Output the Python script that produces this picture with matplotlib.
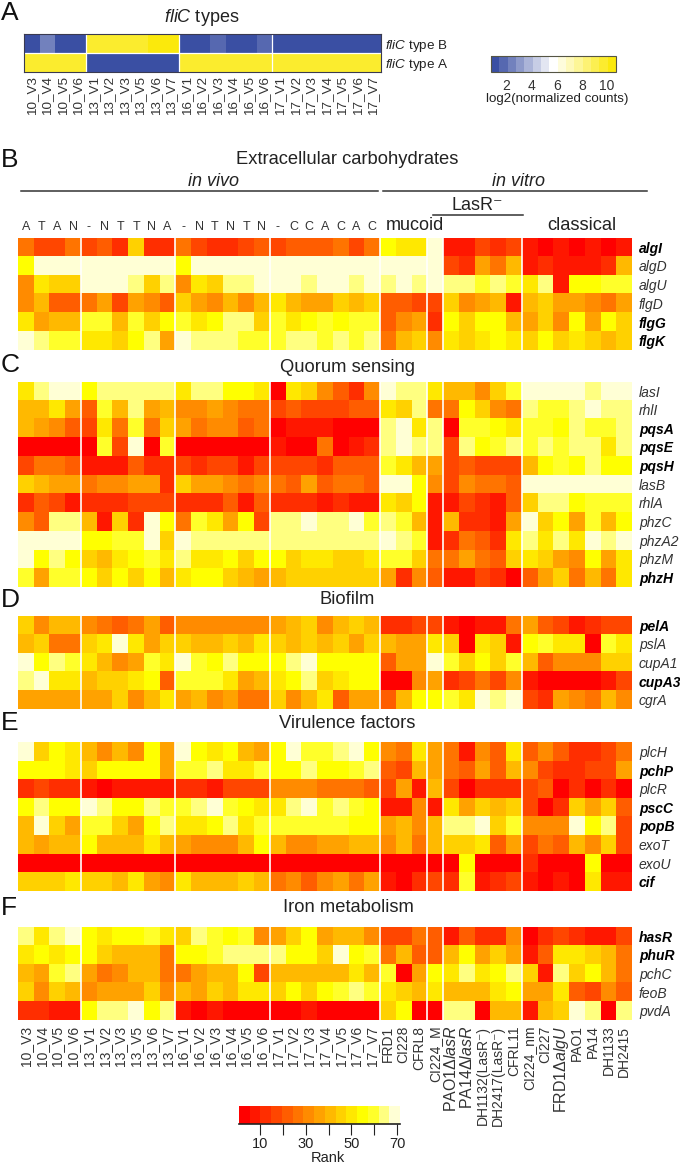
#import packages
import numpy as np
import matplotlib
matplotlib.use("Agg")
import matplotlib.pyplot as plt
from matplotlib.colors import ListedColormap, LinearSegmentedColormap, Normalize
from matplotlib.cm import ScalarMappable

plt.rcParams['font.family'] = ['Liberation Sans', 'DejaVu Sans']
plt.rcParams['mathtext.fontset'] = 'custom'
plt.rcParams['mathtext.rm'] = 'Liberation Sans'
plt.rcParams['mathtext.it'] = 'Liberation Sans:italic'
plt.rcParams['mathtext.bf'] = 'Liberation Sans:bold'

#sample labels
vivo_samples = ["10_V3", "10_V4", "10_V5", "10_V6",
                "13_V1", "13_V2", "13_V3", "13_V5", "13_V6", "13_V7",
                "16_V1", "16_V2", "16_V3", "16_V4", "16_V5", "16_V6",
                "17_V1", "17_V2", "17_V3", "17_V4", "17_V5", "17_V6", "17_V7"]
vitro_samples = ["FRD1", "CI228", "CFRL8", "CI224_M",
                 r"PAO1Δ$\it{lasR}$", r"PA14Δ$\it{lasR}$", "DH1132(LasR\u207b)",
                 "DH2417(LasR\u207b)", "CFRL11",
                 "CI224_nm", "CI227", r"FRD1Δ$\it{algU}$", "PAO1", "PA14", "DH1133", "DH2415"]
fliC_letters = ["A", "T", "A", "N", "-", "N", "T", "T", "N", "A", "-", "N", "T", "N", "T", "N",
                "-", "C", "C", "A", "C", "A", "C"]

#panel A, log2(normalized counts)
fliC_genes = ["type B", "type A"]
fliC_b = [1.4, 2.2, 1.3, 1.3, 10, 10, 10, 10, 10.4, 10.3,
          1.3, 1.4, 1.9, 1.2, 1.2, 1.5, 1.2, 1.2, 1.2, 1.2, 1.4, 1.4, 1.2]
fliC_a = [10, 10, 10, 10, 1.3, 1.4, 1.4, 1.4, 1.2, 1.2,
          10, 10, 10, 10, 10, 9.4, 10, 10, 10, 10, 10, 10, 10]

#panel B, ranks
genes_b = ["algI", "algD", "algU", "flgD", "flgG", "flgK"]
bold_b = ["algI", "flgG", "flgK"]
algI = [27,17,17,27, 17,22,13,45,13,13, 27,17,13,13,17,22, 17,22,22,22,27,17,27, 55,50,50, 69, 8,8,17,13,17, 8,3,8,3,8,3,8]
algD = [55,69,69,69, 69,69,69,69,69,69, 55,69,69,69,69,69, 69,69,69,69,69,69,69, 69,69,69, 69, 17,13,36,27,41, 8,13,8,8,8,13,41]
algU = [31,50,45,45, 69,69,69,64,45,64, 31,50,45,64,64,69, 69,69,64,69,69,64,69, 64,69,64, 69, 64,64,59,64,59, 50,64,8,55,55,59,59]
flgD = [31,41,22,22, 27,36,17,36,31,22, 45,36,31,41,31,41, 50,41,36,36,45,41,45, 22,22,17, 17, 45,31,36,41,8, 41,45,36,36,31,27,36]
flgG = [50,36,41,41, 59,59,41,59,45,55, 59,50,55,64,64,45, 59,50,55,59,55,59,59, 22,31,36, 13, 55,45,55,55,41, 36,45,31,55,36,55,45]
flgK = [69,64,59,59, 50,50,45,55,64,36, 69,64,64,64,59,59, 59,64,64,59,64,59,64, 27,41,45, 31, 50,45,50,55,50, 45,55,45,50,45,41,45]

#panel C, ranks
genes_c = ["lasI", "rhlI", "pqsA", "pqsE", "pqsH", "lasB", "rhlA", "phzC", "phzA2", "phzM", "phzH"]
bold_c = ["pqsA", "pqsE", "pqsH", "phzH"]
lasI = [50,64,69,69, 55,64,64,64,64,64, 50,64,64,55,55,50, 3,50,45,31,22,13,31, 69,64,64, 50, 41,41,31,45,59, 69,69,69,69,64,69,69]
rhlI = [41,41,50,36, 22,59,41,64,36,41, 31,31,36,31,27,27, 17,22,17,17,17,22,22, 50,45,64, 27, 27,55,45,31,27, 64,59,59,64,69,64,64]
pqsA = [41,36,31,22, 17,50,27,59,27,45, 36,27,31,31,22,27, 3,8,8,8,3,3,3, 64,69,50, 64, 3,59,59,55,50, 59,59,55,64,59,59,64]
pqsE = [3,3,3,3, 3,59,17,69,3,59, 3,3,3,3,3,3, 8,3,3,27,3,8,13, 64,69,64, 64, 17,64,55,59,64, 59,64,59,64,64,50,64]
pqsH = [17,27,27,22, 8,8,8,22,13,13, 17,13,17,17,8,17, 17,17,17,13,22,22,22, 59,50,41, 36, 17,22,17,17,17, 41,55,59,55,64,55,55]
lasB = [45,41,36,36, 27,31,31,36,36,13, 45,36,36,31,27,31, 27,22,36,22,27,27,22, 69,69,55, 31, 17,31,27,27,22, 69,69,69,69,69,69,69]
rhlA = [13,22,17,8, 13,13,13,17,17,17, 13,13,13,22,8,22, 13,13,13,8,13,8,8, 50,45,55, 8, 8,17,13,8,22, 45,64,64,55,59,59,59]
phzC = [31,22,64,64, 41,8,45,13,69,55, 27,59,50,36,55,17, 64,64,69,64,64,69,59, 64,59,41, 8, 41,13,13,8,36, 69,45,55,36,59,41,55]
phzA2 = [69,69,69,69, 55,55,59,59,69,45, 69,64,64,64,64,64, 64,64,64,64,64,64,64, 69,64,59, 8, 13,27,22,13,50, 64,50,64,50,69,64,69]
phzM = [69,55,64,55, 45,41,50,55,59,50, 64,50,50,55,45,55, 55,45,50,50,45,45,50, 59,59,45, 27, 27,36,27,22,45, 50,45,36,31,55,36,50]
phzH = [59,36,59,59, 55,45,55,45,55,41, 50,55,55,45,41,36, 41,45,45,45,45,45,45, 36,13,31, 22, 8,8,17,13,3, 22,36,45,27,41,27,50]

#panel D, ranks
genes_d = ["pelA", "pslA", "cupA1", "cupA3", "cgrA"]
bold_d = ["pelA", "cupA3"]
pelA = [45,31,41,41, 31,27,22,27,36,22, 31,31,31,31,31,31, 36,41,45,31,41,45,41, 13,13,17, 17, 8,3,8,8,27, 36,22,17,8,13,17,17]
pslA = [41,45,27,27, 45,50,69,50,36,45, 45,41,41,45,41,50, 45,41,45,41,45,36,45, 41,36,36, 50, 45,3,50,45,8, 55,59,50,50,3,59,50]
cupA1 = [69,55,64,59, 50,41,31,36,59,50, 69,59,55,64,55,55, 55,64,69,55,55,55,55, 22,36,36, 69, 59,45,55,45,59, 41,22,31,31,31,45,45]
cupA3 = [64,69,50,50, 41,45,45,50,55,22, 59,59,59,50,36,41, 50,55,64,45,50,55,55, 3,3,31, 36, 13,17,27,17,31, 8,3,3,3,3,8,17]
cgrA = [36,36,36,36, 36,36,45,31,41,50, 36,41,31,36,27,27, 45,31,41,50,22,36,36, 22,41,55, 55, 59,50,69,64,69, 17,13,36,31,27,41,31]

#panel E, ranks
genes_e = ["plcH", "pchP", "plcR", "pscC", "popB", "exoT", "exoU", "cif"]
bold_e = ["pchP", "pscC", "popB", "cif"]
plcH = [69,45,55,50, 41,31,41,31,55,36, 69,55,50,55,41,36, 55,69,59,59,64,69,55, 31,27,50, 36, 27,8,31,22,50, 22,31,22,13,13,17,27]
pchP = [55,55,55,50, 45,55,55,55,55,36, 59,59,64,50,50,59, 55,55,64,55,55,59,64, 22,17,41, 36, 27,22,36,22,41, 31,17,13,13,17,17,36]
plcR = [13,17,13,13, 8,3,8,8,8,8, 13,13,8,17,17,17, 31,31,31,27,27,27,22, 17,36,8, 41, 17,3,13,13,13, 17,22,3,13,3,13,3]
pscC = [55,64,55,55, 69,64,55,55,64,59, 59,64,69,59,55,50, 50,64,69,59,64,59,55, 8,8,31, 8, 50,36,45,41,45, 17,3,13,45,36,45,22]
popB = [41,69,45,36, 59,59,45,36,55,64, 50,50,55,64,50,59, 59,59,59,59,59,55,55, 36,41,31, 41, 64,64,69,45,59, 31,31,31,69,55,64,17]
exoT = [41,36,41,41, 55,41,41,41,50,41, 36,31,31,31,41,55, 41,31,31,36,36,41,41, 31,41,27, 41, 45,45,50,22,36, 17,27,22,41,31,45,17]
exoU = [3,3,3,3, 3,3,3,3,3,3, 3,3,3,3,3,3, 3,3,3,3,3,3,3, 3,3,3, 3, 3,55,3,3,3, 13,3,3,3,55,3,3]
cif = [45,45,45,50, 45,45,41,50,36,31, 50,41,41,41,45,41, 27,31,22,31,36,27,36, 8,3,13, 17, 13,59,8,13,17, 8,3,8,3,50,8,8]

#panel F, ranks
genes_f = ["hasR", "phuR", "pchC", "feoB", "pvdA"]
bold_f = ["hasR", "phuR"]
hasR = [64,50,64,69, 55,50,55,55,59,50, 45,64,59,55,59,31, 36,45,55,36,41,41,31, 17,17,27, 22, 8,22,13,13,31, 3,13,17,13,8,8,17]
phuR = [50,55,50,55, 55,45,41,41,41,27, 55,55,59,64,64,64, 64,55,55,45,69,55,59, 27,41,22, 22, 41,55,36,45,36, 8,22,50,50,45,41,27]
pchC = [41,36,59,64, 36,27,31,41,41,27, 27,36,41,41,55,17, 41,41,41,41,41,50,41, 59,3,36, 55, 50,64,50,55,64, 45,8,64,45,55,41,27]
feoB = [45,31,45,41, 31,36,36,36,45,31, 41,36,45,41,50,50, 45,55,45,55,59,64,59, 50,45,41, 50, 41,41,41,50,55, 36,36,50,22,17,31,22]
pvdA = [13,13,8,8, 55,64,64,69,55,64, 8,3,8,3,3,3, 3,3,8,3,3,3,3, 45,55,3, 3, 64,64,3,41,41, 8,41,45,69,64,3,64]

#colormaps
rank_cmap = ListedColormap(["#ff0000", "#ff1700", "#ff2e00", "#ff4600", "#ff5d00", "#ff7400", "#ff8b00",
                            "#ffa200", "#ffb900", "#ffd100", "#ffe800", "#ffff00", "#ffff2a", "#ffff80", "#ffffd5"])
rank_norm = Normalize(1, 71)
count_cmap = LinearSegmentedColormap.from_list("counts", ["#3a4fa3", "#ffffff", "#fbe90c"], N=15)
count_norm = Normalize(0.8, 10.7)

W, H = 680, 1165
TEXT = "#222222"
fig = plt.figure(figsize=(W / 100, H / 100), dpi=100)


#axes from pixel box, y measured from the top
def box(x0, y0, x1, y1):
    return fig.add_axes([x0 / W, 1 - y1 / H, (x1 - x0) / W, (y1 - y0) / H])


def label(x, y, s, **kw):
    kw.setdefault("color", TEXT)
    kw.setdefault("ha", "center")
    kw.setdefault("va", "center")
    fig.text(x / W, 1 - y / H, s, **kw)


def heat(y0, y1, rows, genes, bold, bottom=False):
    ax = box(18, y0, 632, y1)
    ax.imshow(np.array(rows), cmap=rank_cmap, norm=rank_norm, aspect="auto", interpolation="nearest")
    for k in [4, 10, 16, 23, 26, 27, 32]:
        ax.axvline(k - 0.5, color="white", lw=1.2)
    ax.yaxis.tick_right()
    ax.set_yticks(range(len(genes)))
    ax.set_yticklabels(genes, fontsize=10, color="#333333", style="italic")
    for t, g in zip(ax.get_yticklabels(), genes):
        if g in bold:
            t.set_fontweight("bold")
            t.set_color("black")
    ax.tick_params(axis="y", length=0, pad=5)
    if bottom:
        ax.set_xticks(range(39))
        ax.set_xticklabels(vivo_samples + vitro_samples, rotation=90, fontsize=10, color="#333333")
        ax.tick_params(axis="x", length=0, pad=4)
    else:
        ax.set_xticks([])
    for s in ax.spines.values():
        s.set_visible(False)
    return ax


#panel A
ax = box(24, 34, 381, 72)
ax.imshow(np.array([fliC_b, fliC_a]), cmap=count_cmap, norm=count_norm, aspect="auto", interpolation="nearest")
for k in [4, 10, 16]:
    ax.axvline(k - 0.5, color="white", lw=0.9)
ax.axhline(0.5, color="white", lw=0.9)
ax.set_xticks(range(23))
ax.set_xticklabels(vivo_samples, rotation=90, fontsize=9.7, color="#333333")
ax.yaxis.tick_right()
ax.set_yticks([0, 1])
ax.set_yticklabels([r"$\it{fliC}$ " + g for g in fliC_genes], fontsize=9.7, color="#222222")
ax.tick_params(length=0, pad=3)
for s in ax.spines.values():
    s.set_color("#3a3a50")
    s.set_linewidth(0.8)

#panel A colorbar
cax = box(491, 56, 616, 72)
cb = fig.colorbar(ScalarMappable(norm=count_norm, cmap=count_cmap), cax=cax, orientation="horizontal")
cb.set_ticks([2, 4, 6, 8, 10])
cb.ax.tick_params(length=0, labelsize=10, pad=5, labelcolor="#333333")
cb.outline.set_edgecolor("#555544")
cb.outline.set_linewidth(0.8)
label(557, 99, "log2(normalized counts)", fontsize=9.6)

#panels B to F
heat(238, 350, [algI, algD, algU, flgD, flgG, flgK], genes_b, bold_b)
heat(381.7, 586.7, [lasI, rhlI, pqsA, pqsE, pqsH, lasB, rhlA, phzC, phzA2, phzM, phzH], genes_c, bold_c)
heat(615.7, 709, [pelA, pslA, cupA1, cupA3, cgrA], genes_d, bold_d)
heat(742.3, 891, [plcH, pchP, plcR, pscC, popB, exoT, exoU, cif], genes_e, bold_e)
ax = heat(926.7, 1020, [hasR, phuR, pchC, feoB, pvdA], genes_f, bold_f, bottom=True)
#mathtext labels come out short, size them up
for t in ax.get_xticklabels():
    if "$" in t.get_text():
        t.set_fontsize(11.5)

#rank colorbar
cax = box(239, 1105.7, 400, 1124)
cb = fig.colorbar(ScalarMappable(norm=Normalize(0.8, 71.3), cmap=rank_cmap), cax=cax, orientation="horizontal")
cb.set_ticks([10, 20, 30, 40, 50, 60, 70])
cb.set_ticklabels(["10", "", "30", "", "50", "", "70"])
cb.ax.tick_params(length=8, width=0.8, labelsize=10.5, pad=1.5, labelcolor="#222222", color="#222222")
cb.outline.set_visible(False)
cb.ax.axhline(0, color="#222222", lw=1.2, clip_on=False)
label(328, 1158, "Rank", fontsize=10.5)

#panel letters
for s, y in zip("ABCDEF", [13, 160, 365, 600, 723, 908]):
    label(1, y, s, fontsize=19, ha="left", color="#111111")

#section titles
label(202, 17, r"$\it{fliC}$ types", fontsize=13)
label(347, 159, "Extracellular carbohydrates", fontsize=13.2)
label(347, 367, "Quorum sensing", fontsize=13.2)
label(347, 600, "Biofilm", fontsize=13.2)
label(347, 723, "Virulence factors", fontsize=13.2)
label(348, 908, "Iron metabolism", fontsize=13.2)

#group headers
label(214, 182, "in vivo", fontsize=13, style="italic")
label(518, 182, "in vitro", fontsize=13, style="italic")
label(477, 205, "LasR\u207b", fontsize=13)
label(415, 226, "mucoid", fontsize=13)
label(582, 226, "classical", fontsize=13.2)
for x0, x1, y in [(21, 378, 190.7), (383, 647, 190.7), (433, 523, 215)]:
    fig.add_artist(plt.Line2D([x0 / W, x1 / W], [1 - y / H, 1 - y / H], color="#333333", lw=1.1))

#fliC letters above panel B
for i, s in enumerate(fliC_letters):
    label(18 + 15.74 * (i + 0.5), 227, s, fontsize=9, color="#333333")

fig.savefig("out.png", dpi=100)
